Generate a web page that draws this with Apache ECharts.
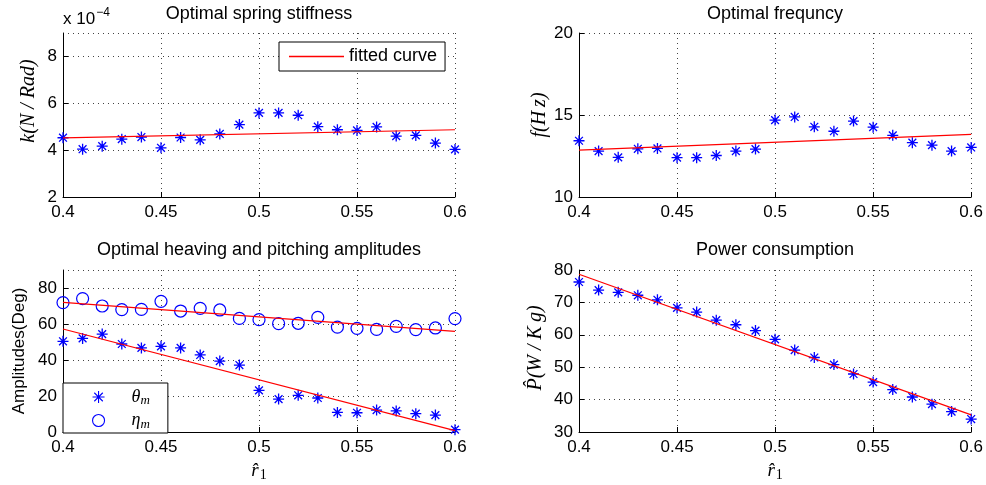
<!DOCTYPE html>
<html>
<head>
<meta charset="utf-8">
<script src="https://cdn.jsdelivr.net/npm/echarts@6/dist/echarts.min.js"></script>
<style>html,body{margin:0;padding:0;background:#fff}#c{width:986px;height:485px}</style>
</head>
<body>
<div id="c"></div>
<script>
// ---- data ----
const r1 = [0.40,0.41,0.42,0.43,0.44,0.45,0.46,0.47,0.48,0.49,0.50,0.51,0.52,0.53,0.54,0.55,0.56,0.57,0.58,0.59,0.60];
const stiffness = [4.53,4.04,4.17,4.47,4.56,4.10,4.54,4.44,4.69,5.09,5.59,5.59,5.49,5.00,4.87,4.84,4.99,4.60,4.63,4.30,4.03]; // x 10^-4
const frequency = [13.43,12.80,12.42,12.94,12.96,12.40,12.40,12.53,12.80,12.92,14.69,14.88,14.28,14.01,14.63,14.26,13.76,13.31,13.16,12.80,13.02];
const theta = [50.4,52.0,54.4,48.9,46.7,47.6,46.7,42.8,39.4,37.2,23.1,18.3,20.4,18.9,10.9,10.7,12.2,11.7,10.2,9.4,1.3];
const eta = [71.9,74.1,70.0,68.0,68.1,72.6,67.2,68.7,67.8,63.1,62.4,60.2,60.4,63.7,58.3,57.6,57.0,58.7,56.9,57.8,63.0];
const power = [76.3,73.8,73.1,72.2,70.8,68.3,67.0,64.5,63.1,61.3,58.6,55.3,53.0,50.8,47.9,45.4,43.1,40.8,38.6,36.3,34.0];
const fitX = [0.40, 0.60];
const fitStiffness = [4.52, 4.87];
const fitFrequency = [12.86, 13.82];
const fitTheta = [57.2, 0.8];
const fitEta = [72.0, 55.9];
const fitPower = [78.7, 35.3];
const xTicks = {min: 0.4, max: 0.6, interval: 0.05};
const titles = ['Optimal spring stiffness', 'Optimal frequncy', 'Optimal heaving and pitching amplitudes', 'Power consumption'];

// ---- styling helpers ----
const SANS = 'Liberation Sans, Arial, Helvetica, sans-serif';
const SERIF = 'Liberation Serif, Times New Roman, serif';
const BLUE = '#0000ff', RED = '#ff0000';
const STAR = 'path://M5,0 L5,10 M0,5 L10,5 M1.46,1.46 L8.54,8.54 M1.46,8.54 L8.54,1.46';
const pair = (xs, ys) => xs.map((x, i) => [x, ys[i]]);

const grids = [
  {left: 63, top: 33, width: 392, height: 164},
  {left: 579, top: 33, width: 393, height: 164},
  {left: 63, top: 270, width: 392, height: 162},
  {left: 579, top: 270, width: 393, height: 162}
];

const dotted = {show: true, lineStyle: {color: '#444', width: 1, type: [1, 4]}};
function xAxis(i, withName) {
  return {
    type: 'value', gridIndex: i, min: xTicks.min, max: xTicks.max, interval: xTicks.interval,
    axisLine: {show: true, onZero: false, lineStyle: {color: '#000', width: 1}},
    axisTick: {show: true, inside: true, length: 5, lineStyle: {color: '#000'}},
    axisLabel: {color: '#000', fontFamily: SANS, fontSize: 17, margin: 7, showMinLabel: true, showMaxLabel: true},
    splitLine: dotted,
    name: withName ? '{a|r\u0302}{b|1}' : '',
    nameLocation: 'middle', nameGap: 28,
    nameTextStyle: {rich: {a: {fontFamily: SERIF, fontStyle: 'italic', fontSize: 19, color: '#000'},
                           b: {fontFamily: SERIF, fontSize: 14, color: '#000', padding: [8, 0, 0, 1]}}}
  };
}
function yAxis(i, min, max, interval, name, gap, nameFont, showMax) {
  return {
    type: 'value', gridIndex: i, min: min, max: max, interval: interval,
    axisLine: {show: true, lineStyle: {color: '#000', width: 1}},
    axisTick: {show: true, inside: true, length: 5, lineStyle: {color: '#000'}},
    axisLabel: {color: '#000', fontFamily: SANS, fontSize: 17, margin: 6, showMaxLabel: showMax, showMinLabel: true},
    splitLine: dotted,
    name: name, nameLocation: 'middle', nameGap: gap, nameRotate: 90,
    nameTextStyle: Object.assign({color: '#000', fontSize: 20}, nameFont)
  };
}
const italicSerif = {fontFamily: SERIF, fontStyle: 'italic', fontSize: 20};

function scatter(name, xi, data, symbol, size) {
  const star = symbol === 'star';
  return {
    type: 'scatter', name: name, xAxisIndex: xi, yAxisIndex: xi, data: data,
    symbol: star ? STAR : 'circle', symbolSize: size,
    itemStyle: {color: 'rgba(0,0,0,0)', borderColor: BLUE, borderWidth: star ? 1.3 : 1.2, opacity: 1},
    z: 3
  };
}
function fit(name, xi, ys) {
  return {
    type: 'line', name: name, xAxisIndex: xi, yAxisIndex: xi, data: pair(fitX, ys),
    symbol: 'none', lineStyle: {color: RED, width: 1.2}, itemStyle: {color: RED}, z: 4, silent: true
  };
}

const titleCenters = [[259, 14], [775, 14], [259, 250], [775, 250]];

const option = {
  animation: false,
  backgroundColor: '#fff',
  grid: grids,
  xAxis: [xAxis(0, false), xAxis(1, false), xAxis(2, true), xAxis(3, true)],
  yAxis: [
    yAxis(0, 2, 9, 2, 'k(N / Rad)', 24, Object.assign({padding: [0, 0, 0, 28]}, italicSerif), false),
    yAxis(1, 10, 20, 5, 'f(H\u2009z)', 26, italicSerif, true),
    yAxis(2, 0, 90, 20, 'Amplitudes(Deg)', 35, {fontFamily: SANS, fontSize: 17}, false),
    yAxis(3, 30, 80, 10, 'P\u0302(W / K\u2009g)', 33, Object.assign({padding: [0, 0, 0, 6]}, italicSerif), true)
  ],
  legend: [
    {
      data: [{name: 'fitted curve', icon: 'rect'}], left: 279, top: 42, orient: 'vertical',
      padding: [5, 8, 5, 10], itemWidth: 55, itemHeight: 1.5, itemGap: 5,
      borderColor: '#000', borderWidth: 1, backgroundColor: '#fff',
      textStyle: {fontFamily: SANS, fontSize: 18, color: '#000', lineHeight: 19}, selectedMode: false
    },
    {
      data: ['θm', 'ηm'], left: 63, top: 383, orient: 'vertical',
      padding: [5, 18, 2, 29], itemWidth: 50, itemHeight: 12, itemGap: 4,
      borderColor: '#000', borderWidth: 1, backgroundColor: '#fff',
      itemStyle: {color: 'rgba(0,0,0,0)', borderColor: BLUE, borderWidth: 1.1},
      formatter: n => '{a|' + n.charAt(0) + '}{b|' + n.slice(1) + '}',
      textStyle: {color: '#000', rich: {
        a: {fontFamily: SERIF, fontStyle: 'italic', fontSize: 18, color: '#000', padding: [0, 0, 0, 3]},
        b: {fontFamily: SERIF, fontStyle: 'italic', fontSize: 13, color: '#000', padding: [8, 0, 0, 0]}
      }}, selectedMode: false
    }
  ],
  graphic: titleCenters.map((c, i) => ({
    type: 'text', x: c[0], y: c[1],
    style: {text: titles[i], textAlign: 'center', textVerticalAlign: 'middle', font: '18px ' + SANS, fill: '#000'}
  })).concat([{
    type: 'text', x: 63, y: 19,
    style: {text: '{a|x 10}{b|\u22124}', textVerticalAlign: 'middle', textAlign: 'left', fill: '#000',
      rich: {a: {fontFamily: SANS, fontSize: 17, color: '#000'},
             b: {fontFamily: SANS, fontSize: 12, color: '#000', padding: [0, 0, 12, 1]}}}
  }]),
  series: [
    scatter('k', 0, pair(r1, stiffness), 'star', 11),
    fit('fitted curve', 0, fitStiffness),
    scatter('f', 1, pair(r1, frequency), 'star', 11),
    fit('fit f', 1, fitFrequency),
    scatter('θm', 2, pair(r1, theta), 'star', 11),
    scatter('ηm', 2, pair(r1, eta), 'circle', 12),
    fit('fit theta', 2, fitTheta),
    fit('fit eta', 2, fitEta),
    scatter('P', 3, pair(r1, power), 'star', 11),
    fit('fit P', 3, fitPower)
  ]
};

const chart = echarts.init(document.getElementById('c'), null, {renderer: 'canvas'});
chart.setOption(option);
</script>
</body>
</html>
